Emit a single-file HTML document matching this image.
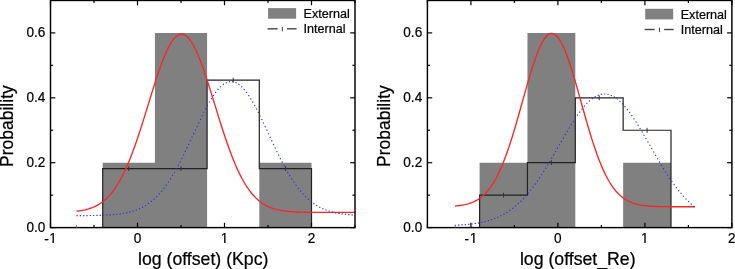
<!DOCTYPE html>
<html><head><meta charset="utf-8">
<style>
html,body{margin:0;padding:0;background:#fff;}
body{width:735px;height:269px;overflow:hidden;}
svg{display:block;will-change:transform;font-family:"Liberation Sans",sans-serif;}
text{stroke:#000;stroke-width:0.22px;}
</style></head><body>
<svg width="735" height="269" viewBox="0 0 735 269">
<rect width="735" height="269" fill="#fff"/>
<path d="M102.70 227.60 V162.70 H154.90 V32.90 H207.10 V227.60 ZM259.30 227.60 V162.70 H311.50 V227.60 Z" fill="#808080"/>
<path d="M102.70 227.60 V168.60 H154.90 V168.60 H207.10 V80.10 H259.30 V168.60 H311.50 V227.60" fill="none" stroke="#222" stroke-width="1.2"/>
<line x1="128.80" y1="166.20" x2="128.80" y2="171.00" stroke="#333" stroke-width="1.0"/>
<line x1="181.00" y1="166.20" x2="181.00" y2="171.00" stroke="#333" stroke-width="1.0"/>
<line x1="233.20" y1="77.70" x2="233.20" y2="82.50" stroke="#333" stroke-width="1.0"/>
<line x1="285.40" y1="166.20" x2="285.40" y2="171.00" stroke="#333" stroke-width="1.0"/>
<path d="M76.60,211.20 L77.99,211.03 L79.38,210.84 L80.78,210.63 L82.17,210.39 L83.56,210.12 L84.95,209.82 L86.34,209.48 L87.74,209.11 L89.13,208.70 L90.52,208.24 L91.91,207.74 L93.30,207.18 L94.70,206.57 L96.09,205.90 L97.48,205.17 L98.87,204.36 L100.26,203.48 L101.66,202.53 L103.05,201.49 L104.44,200.36 L105.83,199.14 L107.22,197.82 L108.62,196.40 L110.01,194.87 L111.40,193.23 L112.79,191.48 L114.18,189.60 L115.58,187.60 L116.97,185.46 L118.36,183.20 L119.75,180.81 L121.14,178.27 L122.54,175.60 L123.93,172.79 L125.32,169.84 L126.71,166.75 L128.10,163.52 L129.50,160.15 L130.89,156.66 L132.28,153.03 L133.67,149.28 L135.06,145.40 L136.46,141.42 L137.85,137.33 L139.24,133.14 L140.63,128.87 L142.02,124.52 L143.42,120.11 L144.81,115.65 L146.20,111.15 L147.59,106.63 L148.98,102.09 L150.38,97.57 L151.77,93.07 L153.16,88.61 L154.55,84.22 L155.94,79.89 L157.34,75.67 L158.73,71.55 L160.12,67.57 L161.51,63.74 L162.90,60.07 L164.30,56.59 L165.69,53.31 L167.08,50.24 L168.47,47.40 L169.86,44.81 L171.26,42.48 L172.65,40.42 L174.04,38.64 L175.43,37.15 L176.82,35.96 L178.22,35.07 L179.61,34.49 L181.00,34.22 L182.39,34.26 L183.78,34.62 L185.18,35.29 L186.57,36.26 L187.96,37.54 L189.35,39.11 L190.74,40.97 L192.14,43.11 L193.53,45.52 L194.92,48.18 L196.31,51.08 L197.70,54.21 L199.10,57.55 L200.49,61.09 L201.88,64.80 L203.27,68.68 L204.66,72.70 L206.06,76.85 L207.45,81.10 L208.84,85.45 L210.23,89.86 L211.62,94.33 L213.02,98.84 L214.41,103.37 L215.80,107.90 L217.19,112.42 L218.58,116.91 L219.98,121.36 L221.37,125.75 L222.76,130.08 L224.15,134.33 L225.54,138.49 L226.94,142.55 L228.33,146.51 L229.72,150.34 L231.11,154.06 L232.50,157.65 L233.90,161.12 L235.29,164.44 L236.68,167.63 L238.07,170.68 L239.46,173.59 L240.86,176.37 L242.25,179.00 L243.64,181.49 L245.03,183.85 L246.42,186.08 L247.82,188.17 L249.21,190.14 L250.60,191.98 L251.99,193.71 L253.38,195.31 L254.78,196.81 L256.17,198.20 L257.56,199.49 L258.95,200.69 L260.34,201.79 L261.74,202.80 L263.13,203.74 L264.52,204.59 L265.91,205.38 L267.30,206.10 L268.70,206.75 L270.09,207.34 L271.48,207.89 L272.87,208.38 L274.26,208.82 L275.66,209.22 L277.05,209.58 L278.44,209.90 L279.83,210.19 L281.22,210.46 L282.62,210.69 L284.01,210.90 L285.40,211.08 L286.79,211.25 L288.18,211.39 L289.58,211.52 L290.97,211.64 L292.36,211.74 L293.75,211.83 L295.14,211.90 L296.54,211.97 L297.93,212.03 L299.32,212.09 L300.71,212.13 L302.10,212.17 L303.50,212.20 L304.89,212.23 L306.28,212.26 L307.67,212.28 L309.06,212.30 L310.46,212.32 L311.85,212.33 L313.24,212.35 L314.63,212.36 L316.02,212.36 L317.42,212.37 L318.81,212.38 L320.20,212.38 L321.59,212.39 L322.98,212.39 L324.38,212.40 L325.77,212.40 L327.16,212.40 L328.55,212.40 L329.94,212.41 L331.34,212.41 L332.73,212.41 L334.12,212.41 L335.51,212.41 L336.90,212.41 L338.30,212.41 L339.69,212.41 L341.08,212.41 L342.47,212.41 L343.86,212.41 L345.26,212.41 L346.65,212.41 L348.04,212.41 L349.43,212.41 L350.82,212.41 L352.22,212.41 L353.61,212.41 L355.00,212.41" fill="none" stroke="#fa2626" stroke-width="1.35"/>
<path d="M76.48 215.63l1.25 -0.00M79.78 215.62l1.25 -0.01M83.09 215.60l1.25 -0.01M86.40 215.57l1.25 -0.01M89.71 215.54l1.25 -0.02M93.02 215.49l1.25 -0.02M96.33 215.43l1.25 -0.03M99.64 215.35l1.25 -0.04M102.95 215.24l1.25 -0.05M106.26 215.10l1.25 -0.06M109.57 214.92l1.25 -0.08M112.87 214.68l1.25 -0.11M116.17 214.37l1.24 -0.14M119.47 213.99l1.24 -0.17M122.76 213.50l1.23 -0.21M126.04 212.90l1.22 -0.26M129.29 212.16l1.21 -0.31M132.53 211.27l1.19 -0.38M135.73 210.20l1.17 -0.44M138.89 208.93l1.14 -0.51M141.99 207.46l1.10 -0.59M145.02 205.77l1.07 -0.65M147.97 203.88l1.02 -0.72M150.82 201.77l0.98 -0.78M153.58 199.47l0.93 -0.84M156.24 196.99l0.88 -0.88M158.80 194.35l0.84 -0.93M161.25 191.57l0.80 -0.96M163.61 188.66l0.76 -0.99M165.88 185.64l0.73 -1.02M168.07 182.53l0.70 -1.04M170.18 179.34l0.67 -1.05M172.22 176.07l0.65 -1.07M174.19 172.75l0.63 -1.08M176.12 169.38l0.61 -1.09M177.99 165.97l0.59 -1.10M179.82 162.52l0.58 -1.11M181.61 159.03l0.56 -1.12M183.36 155.53l0.55 -1.12M185.09 152.00l0.54 -1.13M186.80 148.45l0.54 -1.13M188.49 144.89l0.53 -1.13M190.16 141.32l0.53 -1.13M191.83 137.74l0.53 -1.13M193.49 134.16l0.53 -1.13M195.15 130.59l0.53 -1.13M196.81 127.01l0.53 -1.13M198.49 123.44l0.54 -1.13M200.18 119.89l0.54 -1.13M201.90 116.35l0.55 -1.12M203.64 112.84l0.56 -1.12M205.42 109.35l0.58 -1.11M207.25 105.91l0.60 -1.10M209.14 102.52l0.63 -1.08M211.11 99.19l0.66 -1.06M213.16 95.95l0.70 -1.04M215.33 92.84l0.75 -1.00M217.63 89.88l0.82 -0.95M220.12 87.17l0.90 -0.86M222.81 84.80l1.01 -0.73M225.74 82.94l1.14 -0.51M228.90 81.82l1.24 -0.19M232.21 81.65l1.23 0.20M235.46 82.49l1.14 0.52M238.51 84.16l1.01 0.74M241.30 86.41l0.90 0.87M243.86 89.06l0.81 0.95M246.22 91.97l0.75 1.00M248.44 95.05l0.70 1.04M250.53 98.27l0.66 1.06M252.52 101.58l0.62 1.08M254.43 104.96l0.60 1.10M256.28 108.40l0.58 1.11M258.07 111.88l0.56 1.12M259.83 115.39l0.55 1.12M261.55 118.92l0.54 1.13M263.25 122.47l0.53 1.13M264.93 126.04l0.53 1.13M266.60 129.61l0.53 1.13M268.26 133.19l0.53 1.13M269.92 136.77l0.53 1.13M271.58 140.35l0.53 1.13M273.25 143.92l0.53 1.13M274.94 147.48l0.54 1.13M276.64 151.03l0.54 1.12M278.36 154.56l0.55 1.12M280.11 158.07l0.56 1.12M281.89 161.56l0.58 1.11M283.70 165.02l0.59 1.10M285.56 168.44l0.61 1.09M287.46 171.82l0.63 1.08M289.42 175.15l0.65 1.07M291.44 178.42l0.67 1.05M293.53 181.63l0.70 1.04M295.69 184.76l0.73 1.01M297.93 187.80l0.76 0.99M300.25 190.74l0.80 0.96M302.67 193.55l0.84 0.92M305.19 196.23l0.89 0.88M307.81 198.74l0.93 0.83M310.52 201.09l0.98 0.78M313.34 203.25l1.02 0.72M316.25 205.20l1.07 0.65M319.24 206.95l1.11 0.58M322.31 208.48l1.14 0.51M325.44 209.81l1.17 0.44M328.62 210.94l1.19 0.37M331.84 211.89l1.21 0.31M335.09 212.67l1.22 0.26M338.35 213.32l1.23 0.21M341.64 213.84l1.24 0.17M344.93 214.25l1.24 0.13M348.23 214.58l1.25 0.11M351.53 214.84l1.25 0.08" fill="none" stroke="#2f2ff0" stroke-width="1.15"/>
<rect x="50.50" y="0.45" width="304.50" height="227.15" fill="none" stroke="#000" stroke-width="1.45"/>
<line x1="50.50" y1="227.60" x2="50.50" y2="222.80" stroke="#000" stroke-width="1.2"/>
<line x1="50.50" y1="0.45" x2="50.50" y2="5.25" stroke="#000" stroke-width="1.2"/>
<text transform="translate(44.15,243.9) scale(1,1.07)" font-size="13.6">-</text>
<text transform="translate(49.28,242.9) scale(1,1.07)" font-size="13.6">1</text>
<line x1="94.00" y1="227.60" x2="94.00" y2="225.00" stroke="#000" stroke-width="1.2"/>
<line x1="94.00" y1="0.45" x2="94.00" y2="3.05" stroke="#000" stroke-width="1.2"/>
<line x1="137.50" y1="227.60" x2="137.50" y2="222.80" stroke="#000" stroke-width="1.2"/>
<line x1="137.50" y1="0.45" x2="137.50" y2="5.25" stroke="#000" stroke-width="1.2"/>
<text transform="translate(137.50,242.9) scale(1,1.07)" font-size="13.6" text-anchor="middle">0</text>
<line x1="181.00" y1="227.60" x2="181.00" y2="225.00" stroke="#000" stroke-width="1.2"/>
<line x1="181.00" y1="0.45" x2="181.00" y2="3.05" stroke="#000" stroke-width="1.2"/>
<line x1="224.50" y1="227.60" x2="224.50" y2="222.80" stroke="#000" stroke-width="1.2"/>
<line x1="224.50" y1="0.45" x2="224.50" y2="5.25" stroke="#000" stroke-width="1.2"/>
<text transform="translate(224.50,242.9) scale(1,1.07)" font-size="13.6" text-anchor="middle">1</text>
<line x1="268.00" y1="227.60" x2="268.00" y2="225.00" stroke="#000" stroke-width="1.2"/>
<line x1="268.00" y1="0.45" x2="268.00" y2="3.05" stroke="#000" stroke-width="1.2"/>
<line x1="311.50" y1="227.60" x2="311.50" y2="222.80" stroke="#000" stroke-width="1.2"/>
<line x1="311.50" y1="0.45" x2="311.50" y2="5.25" stroke="#000" stroke-width="1.2"/>
<text transform="translate(311.50,242.9) scale(1,1.07)" font-size="13.6" text-anchor="middle">2</text>
<line x1="355.00" y1="227.60" x2="355.00" y2="225.00" stroke="#000" stroke-width="1.2"/>
<line x1="355.00" y1="0.45" x2="355.00" y2="3.05" stroke="#000" stroke-width="1.2"/>
<line x1="76.40" y1="227.60" x2="76.40" y2="225.10" stroke="#777" stroke-width="1"/>
<line x1="50.50" y1="227.60" x2="55.30" y2="227.60" stroke="#000" stroke-width="1.2"/>
<line x1="355.00" y1="227.60" x2="350.20" y2="227.60" stroke="#000" stroke-width="1.2"/>
<text transform="translate(45.30,231.80) scale(1,1.07)" font-size="13.6" text-anchor="end">0.0</text>
<line x1="50.50" y1="195.15" x2="53.10" y2="195.15" stroke="#000" stroke-width="1.2"/>
<line x1="355.00" y1="195.15" x2="352.40" y2="195.15" stroke="#000" stroke-width="1.2"/>
<line x1="50.50" y1="162.70" x2="55.30" y2="162.70" stroke="#000" stroke-width="1.2"/>
<line x1="355.00" y1="162.70" x2="350.20" y2="162.70" stroke="#000" stroke-width="1.2"/>
<text transform="translate(45.30,166.90) scale(1,1.07)" font-size="13.6" text-anchor="end">0.2</text>
<line x1="50.50" y1="130.25" x2="53.10" y2="130.25" stroke="#000" stroke-width="1.2"/>
<line x1="355.00" y1="130.25" x2="352.40" y2="130.25" stroke="#000" stroke-width="1.2"/>
<line x1="50.50" y1="97.80" x2="55.30" y2="97.80" stroke="#000" stroke-width="1.2"/>
<line x1="355.00" y1="97.80" x2="350.20" y2="97.80" stroke="#000" stroke-width="1.2"/>
<text transform="translate(45.30,102.00) scale(1,1.07)" font-size="13.6" text-anchor="end">0.4</text>
<line x1="50.50" y1="65.35" x2="53.10" y2="65.35" stroke="#000" stroke-width="1.2"/>
<line x1="355.00" y1="65.35" x2="352.40" y2="65.35" stroke="#000" stroke-width="1.2"/>
<line x1="50.50" y1="32.90" x2="55.30" y2="32.90" stroke="#000" stroke-width="1.2"/>
<line x1="355.00" y1="32.90" x2="350.20" y2="32.90" stroke="#000" stroke-width="1.2"/>
<text transform="translate(45.30,37.10) scale(1,1.07)" font-size="13.6" text-anchor="end">0.6</text>
<line x1="50.50" y1="0.45" x2="53.10" y2="0.45" stroke="#000" stroke-width="1.2"/>
<line x1="355.00" y1="0.45" x2="352.40" y2="0.45" stroke="#000" stroke-width="1.2"/>
<rect x="268.10" y="8.10" width="28" height="10.6" fill="#808080"/>
<text x="303.60" y="18.00" font-size="12.6">External</text>
<line x1="267.60" y1="28.80" x2="277.60" y2="28.80" stroke="#444" stroke-width="1.4"/>
<line x1="282.35" y1="26.90" x2="282.35" y2="31.40" stroke="#444" stroke-width="1"/>
<line x1="287.00" y1="28.80" x2="296.60" y2="28.80" stroke="#444" stroke-width="1.4"/>
<text x="303.60" y="33.00" font-size="12.6">Internal</text>
<text x="203.20" y="265.2" font-size="17.7" text-anchor="middle">log (offset) (Kpc)</text>
<text transform="translate(12.80,126.1) rotate(-90)" font-size="17.5" text-anchor="middle">Probability</text>
<path d="M479.60 227.60 V162.70 H527.45 V32.90 H575.30 V227.60 ZM623.15 227.60 V162.70 H671.00 V227.60 Z" fill="#808080"/>
<path d="M479.60 227.60 V195.15 H527.45 V162.70 H575.30 V97.80 H623.15 V130.25 H671.00 V227.60" fill="none" stroke="#222" stroke-width="1.2"/>
<line x1="503.52" y1="192.75" x2="503.52" y2="197.55" stroke="#333" stroke-width="1.0"/>
<line x1="551.38" y1="160.30" x2="551.38" y2="165.10" stroke="#333" stroke-width="1.0"/>
<line x1="599.23" y1="95.40" x2="599.23" y2="100.20" stroke="#333" stroke-width="1.0"/>
<line x1="647.07" y1="127.85" x2="647.07" y2="132.65" stroke="#333" stroke-width="1.0"/>
<path d="M454.98,206.02 L456.18,205.91 L457.38,205.79 L458.58,205.66 L459.78,205.50 L460.98,205.33 L462.18,205.14 L463.38,204.92 L464.58,204.68 L465.78,204.41 L466.98,204.12 L468.18,203.79 L469.38,203.42 L470.58,203.01 L471.78,202.57 L472.98,202.07 L474.18,201.53 L475.38,200.94 L476.58,200.29 L477.78,199.58 L478.98,198.80 L480.18,197.96 L481.38,197.04 L482.58,196.04 L483.78,194.96 L484.98,193.80 L486.18,192.54 L487.38,191.19 L488.58,189.74 L489.78,188.19 L490.98,186.52 L492.18,184.75 L493.38,182.86 L494.58,180.85 L495.78,178.72 L496.98,176.46 L498.18,174.08 L499.39,171.57 L500.59,168.93 L501.79,166.16 L502.99,163.27 L504.19,160.24 L505.39,157.09 L506.59,153.81 L507.79,150.41 L508.99,146.89 L510.19,143.26 L511.39,139.52 L512.59,135.68 L513.79,131.75 L514.99,127.73 L516.19,123.64 L517.39,119.48 L518.59,115.27 L519.79,111.01 L520.99,106.73 L522.19,102.43 L523.39,98.12 L524.59,93.83 L525.79,89.57 L526.99,85.34 L528.19,81.18 L529.39,77.09 L530.59,73.10 L531.79,69.21 L532.99,65.45 L534.19,61.82 L535.39,58.35 L536.59,55.06 L537.79,51.95 L538.99,49.04 L540.19,46.35 L541.39,43.88 L542.59,41.66 L543.79,39.68 L544.99,37.97 L546.19,36.52 L547.39,35.35 L548.59,34.46 L549.79,33.85 L550.99,33.53 L552.19,33.51 L553.39,33.77 L554.59,34.33 L555.79,35.17 L556.99,36.29 L558.19,37.69 L559.39,39.36 L560.59,41.29 L561.79,43.47 L562.99,45.89 L564.19,48.54 L565.39,51.41 L566.59,54.49 L567.79,57.75 L568.99,61.19 L570.19,64.78 L571.40,68.52 L572.60,72.39 L573.80,76.37 L575.00,80.44 L576.20,84.59 L577.40,88.80 L578.60,93.06 L579.80,97.35 L581.00,101.65 L582.20,105.96 L583.40,110.24 L584.60,114.51 L585.80,118.73 L587.00,122.89 L588.20,127.00 L589.40,131.03 L590.60,134.98 L591.80,138.84 L593.00,142.59 L594.20,146.24 L595.40,149.78 L596.60,153.20 L597.80,156.51 L599.00,159.68 L600.20,162.73 L601.40,165.65 L602.60,168.44 L603.80,171.11 L605.00,173.64 L606.20,176.04 L607.40,178.32 L608.60,180.47 L609.80,182.51 L611.00,184.42 L612.20,186.21 L613.40,187.90 L614.60,189.47 L615.80,190.94 L617.00,192.31 L618.20,193.58 L619.40,194.76 L620.60,195.85 L621.80,196.86 L623.00,197.80 L624.20,198.65 L625.40,199.44 L626.60,200.17 L627.80,200.83 L629.00,201.43 L630.20,201.98 L631.40,202.48 L632.60,202.94 L633.80,203.35 L635.00,203.72 L636.20,204.06 L637.40,204.36 L638.60,204.64 L639.80,204.88 L641.00,205.10 L642.20,205.30 L643.40,205.47 L644.61,205.63 L645.81,205.77 L647.01,205.89 L648.21,206.00 L649.41,206.10 L650.61,206.19 L651.81,206.26 L653.01,206.33 L654.21,206.39 L655.41,206.44 L656.61,206.48 L657.81,206.52 L659.01,206.56 L660.21,206.58 L661.41,206.61 L662.61,206.63 L663.81,206.65 L665.01,206.67 L666.21,206.68 L667.41,206.70 L668.61,206.71 L669.81,206.72 L671.01,206.72 L672.21,206.73 L673.41,206.74 L674.61,206.74 L675.81,206.75 L677.01,206.75 L678.21,206.75 L679.41,206.75 L680.61,206.76 L681.81,206.76 L683.01,206.76 L684.21,206.76 L685.41,206.76 L686.61,206.76 L687.81,206.76 L689.01,206.76 L690.21,206.76 L691.41,206.77 L692.61,206.77 L693.81,206.77 L695.01,206.77" fill="none" stroke="#fa2626" stroke-width="1.35"/>
<path d="M454.85 225.29l1.25 -0.06M458.16 225.13l1.25 -0.07M461.47 224.93l1.25 -0.09M464.77 224.68l1.25 -0.11M468.07 224.38l1.24 -0.13M471.37 224.02l1.24 -0.16M474.66 223.58l1.24 -0.19M477.95 223.06l1.23 -0.22M481.22 222.45l1.22 -0.26M484.48 221.72l1.21 -0.30M487.73 220.87l1.20 -0.35M490.94 219.90l1.18 -0.40M494.13 218.77l1.17 -0.45M497.29 217.50l1.14 -0.51M500.40 216.07l1.12 -0.56M503.46 214.47l1.09 -0.62M506.46 212.71l1.06 -0.67M509.39 210.79l1.02 -0.72M512.26 208.71l0.99 -0.76M515.06 206.48l0.95 -0.81M517.78 204.12l0.92 -0.85M520.43 201.63l0.89 -0.88M523.00 199.02l0.86 -0.91M525.51 196.30l0.83 -0.94M527.94 193.49l0.80 -0.96M530.31 190.60l0.78 -0.98M532.62 187.63l0.75 -1.00M534.87 184.59l0.73 -1.01M537.07 181.50l0.71 -1.03M539.22 178.35l0.70 -1.04M541.34 175.16l0.68 -1.05M543.41 171.94l0.67 -1.06M545.45 168.67l0.66 -1.06M547.46 165.39l0.65 -1.07M549.44 162.07l0.64 -1.08M551.41 158.74l0.63 -1.08M553.35 155.40l0.63 -1.08M555.29 152.04l0.62 -1.08M557.22 148.67l0.62 -1.09M559.14 145.31l0.62 -1.09M561.07 141.94l0.62 -1.08M563.00 138.58l0.62 -1.08M564.94 135.23l0.63 -1.08M566.89 131.89l0.64 -1.08M568.87 128.58l0.65 -1.07M570.87 125.29l0.66 -1.06M572.91 122.03l0.67 -1.05M575.00 118.82l0.69 -1.04M577.13 115.66l0.72 -1.02M579.33 112.57l0.74 -1.00M581.60 109.57l0.78 -0.98M583.96 106.68l0.82 -0.94M586.42 103.93l0.87 -0.90M589.01 101.36l0.93 -0.84M591.74 99.04l1.00 -0.75M594.62 97.04l1.08 -0.62M597.66 95.46l1.16 -0.45M600.85 94.41l1.23 -0.24M604.14 93.99l1.25 0.02M607.44 94.26l1.22 0.27M610.68 95.19l1.15 0.49M613.78 96.69l1.07 0.65M616.71 98.62l0.99 0.76M619.49 100.90l0.92 0.85M622.11 103.44l0.86 0.91M624.61 106.17l0.81 0.95M626.99 109.05l0.77 0.98M629.29 112.04l0.74 1.01M631.50 115.12l0.71 1.03M633.65 118.28l0.69 1.04M635.74 121.48l0.67 1.05M637.79 124.74l0.66 1.06M639.80 128.02l0.64 1.07M641.78 131.34l0.64 1.08M643.74 134.68l0.63 1.08M645.68 138.03l0.62 1.08M647.62 141.39l0.62 1.08M649.54 144.75l0.62 1.09M651.46 148.12l0.62 1.09M653.39 151.48l0.62 1.08M655.32 154.84l0.63 1.08M657.27 158.19l0.63 1.08M659.23 161.52l0.64 1.07M661.21 164.83l0.65 1.07M663.21 168.13l0.66 1.06M665.25 171.39l0.67 1.06M667.31 174.62l0.68 1.05M669.41 177.81l0.70 1.04M671.56 180.96l0.71 1.03M673.75 184.06l0.73 1.01M675.99 187.10l0.76 1.00M678.28 190.08l0.78 0.98M680.63 192.98l0.80 0.96M683.05 195.80l0.83 0.93M685.54 198.53l0.86 0.91M688.09 201.15l0.89 0.87M690.72 203.66l0.93 0.84M693.42 206.04l0.96 0.80" fill="none" stroke="#2f2ff0" stroke-width="1.15"/>
<rect x="427.40" y="0.45" width="304.50" height="227.15" fill="none" stroke="#000" stroke-width="1.45"/>
<line x1="427.40" y1="227.60" x2="427.40" y2="225.00" stroke="#000" stroke-width="1.2"/>
<line x1="427.40" y1="0.45" x2="427.40" y2="3.05" stroke="#000" stroke-width="1.2"/>
<line x1="470.90" y1="227.60" x2="470.90" y2="222.80" stroke="#000" stroke-width="1.2"/>
<line x1="470.90" y1="0.45" x2="470.90" y2="5.25" stroke="#000" stroke-width="1.2"/>
<text transform="translate(464.55,243.9) scale(1,1.07)" font-size="13.6">-</text>
<text transform="translate(469.68,242.9) scale(1,1.07)" font-size="13.6">1</text>
<line x1="514.40" y1="227.60" x2="514.40" y2="225.00" stroke="#000" stroke-width="1.2"/>
<line x1="514.40" y1="0.45" x2="514.40" y2="3.05" stroke="#000" stroke-width="1.2"/>
<line x1="557.90" y1="227.60" x2="557.90" y2="222.80" stroke="#000" stroke-width="1.2"/>
<line x1="557.90" y1="0.45" x2="557.90" y2="5.25" stroke="#000" stroke-width="1.2"/>
<text transform="translate(557.90,242.9) scale(1,1.07)" font-size="13.6" text-anchor="middle">0</text>
<line x1="601.40" y1="227.60" x2="601.40" y2="225.00" stroke="#000" stroke-width="1.2"/>
<line x1="601.40" y1="0.45" x2="601.40" y2="3.05" stroke="#000" stroke-width="1.2"/>
<line x1="644.90" y1="227.60" x2="644.90" y2="222.80" stroke="#000" stroke-width="1.2"/>
<line x1="644.90" y1="0.45" x2="644.90" y2="5.25" stroke="#000" stroke-width="1.2"/>
<text transform="translate(644.90,242.9) scale(1,1.07)" font-size="13.6" text-anchor="middle">1</text>
<line x1="688.40" y1="227.60" x2="688.40" y2="225.00" stroke="#000" stroke-width="1.2"/>
<line x1="688.40" y1="0.45" x2="688.40" y2="3.05" stroke="#000" stroke-width="1.2"/>
<line x1="731.90" y1="227.60" x2="731.90" y2="222.80" stroke="#000" stroke-width="1.2"/>
<line x1="731.90" y1="0.45" x2="731.90" y2="5.25" stroke="#000" stroke-width="1.2"/>
<text transform="translate(731.90,242.9) scale(1,1.07)" font-size="13.6" text-anchor="middle">2</text>
<line x1="455.20" y1="227.60" x2="455.20" y2="225.10" stroke="#777" stroke-width="1"/>
<line x1="427.40" y1="227.60" x2="432.20" y2="227.60" stroke="#000" stroke-width="1.2"/>
<line x1="731.90" y1="227.60" x2="727.10" y2="227.60" stroke="#000" stroke-width="1.2"/>
<text transform="translate(422.20,231.80) scale(1,1.07)" font-size="13.6" text-anchor="end">0.0</text>
<line x1="427.40" y1="195.15" x2="430.00" y2="195.15" stroke="#000" stroke-width="1.2"/>
<line x1="731.90" y1="195.15" x2="729.30" y2="195.15" stroke="#000" stroke-width="1.2"/>
<line x1="427.40" y1="162.70" x2="432.20" y2="162.70" stroke="#000" stroke-width="1.2"/>
<line x1="731.90" y1="162.70" x2="727.10" y2="162.70" stroke="#000" stroke-width="1.2"/>
<text transform="translate(422.20,166.90) scale(1,1.07)" font-size="13.6" text-anchor="end">0.2</text>
<line x1="427.40" y1="130.25" x2="430.00" y2="130.25" stroke="#000" stroke-width="1.2"/>
<line x1="731.90" y1="130.25" x2="729.30" y2="130.25" stroke="#000" stroke-width="1.2"/>
<line x1="427.40" y1="97.80" x2="432.20" y2="97.80" stroke="#000" stroke-width="1.2"/>
<line x1="731.90" y1="97.80" x2="727.10" y2="97.80" stroke="#000" stroke-width="1.2"/>
<text transform="translate(422.20,102.00) scale(1,1.07)" font-size="13.6" text-anchor="end">0.4</text>
<line x1="427.40" y1="65.35" x2="430.00" y2="65.35" stroke="#000" stroke-width="1.2"/>
<line x1="731.90" y1="65.35" x2="729.30" y2="65.35" stroke="#000" stroke-width="1.2"/>
<line x1="427.40" y1="32.90" x2="432.20" y2="32.90" stroke="#000" stroke-width="1.2"/>
<line x1="731.90" y1="32.90" x2="727.10" y2="32.90" stroke="#000" stroke-width="1.2"/>
<text transform="translate(422.20,37.10) scale(1,1.07)" font-size="13.6" text-anchor="end">0.6</text>
<line x1="427.40" y1="0.45" x2="430.00" y2="0.45" stroke="#000" stroke-width="1.2"/>
<line x1="731.90" y1="0.45" x2="729.30" y2="0.45" stroke="#000" stroke-width="1.2"/>
<rect x="645.20" y="8.80" width="28" height="10.6" fill="#808080"/>
<text x="680.70" y="18.70" font-size="12.6">External</text>
<line x1="644.70" y1="29.50" x2="654.70" y2="29.50" stroke="#444" stroke-width="1.4"/>
<line x1="659.45" y1="27.60" x2="659.45" y2="32.10" stroke="#444" stroke-width="1"/>
<line x1="664.10" y1="29.50" x2="673.70" y2="29.50" stroke="#444" stroke-width="1.4"/>
<text x="680.70" y="33.70" font-size="12.6">Internal</text>
<text x="577.75" y="265.2" font-size="17.7" text-anchor="middle">log (offset_Re)</text>
<text transform="translate(389.80,126.1) rotate(-90)" font-size="17.5" text-anchor="middle">Probability</text>
<rect x="49.0" y="242" width="3.52" height="1" fill="#fff"/><rect x="53.878" y="242" width="4.12" height="1" fill="#fff"/><rect x="49.0" y="241" width="3.00" height="1" fill="#fff"/><rect x="54" y="241" width="4.00" height="1" fill="#fff"/>
<rect x="220.0" y="242" width="4.14" height="1" fill="#fff"/><rect x="225.502" y="242" width="3.50" height="1" fill="#fff"/><rect x="220.0" y="241" width="4.00" height="1" fill="#fff"/><rect x="226" y="241" width="3.00" height="1" fill="#fff"/>
<rect x="469.0" y="242" width="4.14" height="1" fill="#fff"/><rect x="474.502" y="242" width="3.50" height="1" fill="#fff"/><rect x="469.0" y="241" width="4.00" height="1" fill="#fff"/><rect x="475" y="241" width="3.00" height="1" fill="#fff"/>
<rect x="640.0" y="242" width="4.33" height="1" fill="#fff"/><rect x="645.69" y="242" width="3.31" height="1" fill="#fff"/><rect x="640.0" y="241" width="4.00" height="1" fill="#fff"/><rect x="646" y="241" width="3.00" height="1" fill="#fff"/>
</svg>
</body></html>
